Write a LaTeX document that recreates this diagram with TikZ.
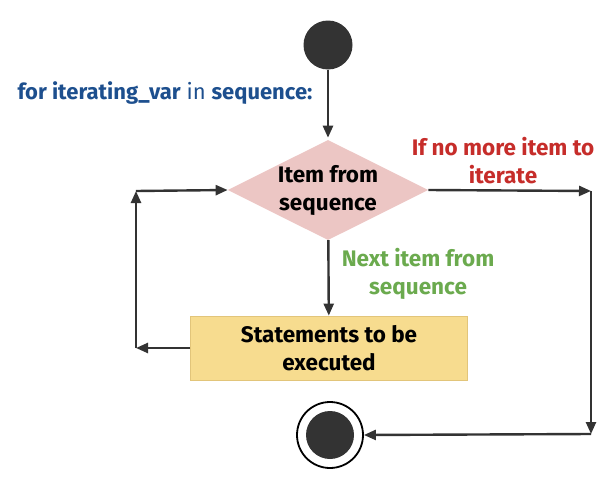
\documentclass[tikz,border=0pt]{standalone}
\usepackage{fontspec}
\setmainfont{Fira Sans}
\usetikzlibrary{shapes.geometric,arrows.meta}
\definecolor{loopblue}{HTML}{1D4F8E}
\definecolor{loopred}{HTML}{C62D2A}
\definecolor{loopgreen}{HTML}{6BAA4E}
\definecolor{condpink}{HTML}{ECC6C4}
\definecolor{stmtyellow}{HTML}{F7DC8F}
\definecolor{stmtedge}{HTML}{E2C57A}
\definecolor{dotgray}{HTML}{333333}
\begin{document}
\begin{tikzpicture}[x=1pt,y=-1pt,
  flow/.style={line width=2.4pt,draw=dotgray,-{Triangle[length=12pt,width=10pt]}},
  boxtext/.style={font=\bfseries\fontsize{22.5}{28}\selectfont,align=center},
  edgetext/.style={font=\bfseries\fontsize{22.5}{28}\selectfont,align=center}]
\useasboundingbox (0,0) rectangle (616,479);

% Start point and loop header
\node[circle,fill=dotgray,minimum size=49pt,inner sep=0pt] (start) at (328,45) {};
\node[font=\fontsize{22}{24}\selectfont,text=loopblue] (header) at (165,93)
  {\textbf{for iterating\_var} in \textbf{sequence:}};

% Condition
\node[diamond,fill=condpink,inner sep=0pt,aspect=2,minimum width=196pt,
  minimum height=96pt,boxtext] (cond) at (328,190) {Item from\\sequence};

% Loop body
\node[rectangle,fill=stmtyellow,draw=stmtedge,line width=0.8pt,minimum width=277pt,
  minimum height=64pt,boxtext] (body) at (329,348) {Statements to be\\executed};

% End point
\node[circle,draw=black,line width=1.8pt,minimum size=66pt,inner sep=0pt,
  path picture={\fill[dotgray] (path picture bounding box.center) circle (24pt);}]
  (stop) at (330,435) {};

% Corners of the two return paths
\coordinate (exitup) at (591,191);
\coordinate (exitdown) at (591,434);
\coordinate (backdown) at (136,348);
\coordinate (backup) at (136,191);

% Connectors
\draw[flow,shorten >=2pt] (start) -- (cond);
\draw[flow] (cond) -- (body);
\draw[flow] (cond.east) -- (exitup);
\draw[flow] (exitup) -- (exitdown);
\draw[flow] (exitdown) -- (stop.east);
\draw[flow] (body.west) -- (backdown);
\draw[flow] (backdown) -- (backup);
\draw[flow] (backup) -- (cond.west);

% Edge labels
\node[edgetext,text=loopred] (nomore) at (503,161) {If no more item to\\iterate};
\node[edgetext,text=loopgreen] (nextitem) at (418,274) {Next item from\\sequence};
\end{tikzpicture}
\end{document}
